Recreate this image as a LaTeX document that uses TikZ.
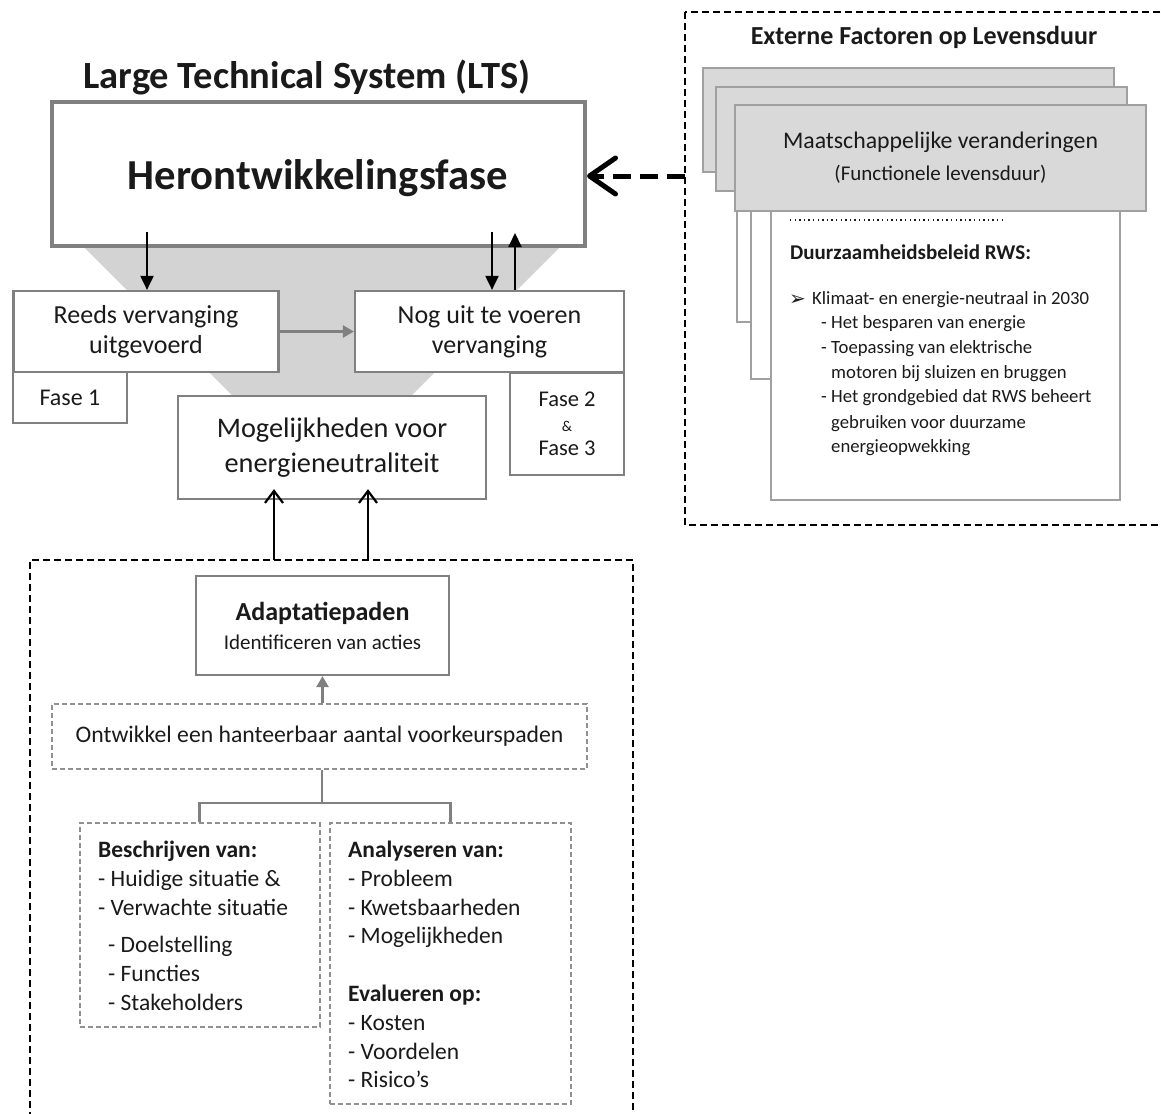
\documentclass[tikz,border=0pt]{standalone}
\usepackage{fontspec}
\setmainfont{Carlito}
\newfontfamily\symfont{DejaVu Sans}
\usetikzlibrary{arrows.meta}
\definecolor{boxgray}{HTML}{808080}
\definecolor{funnelgray}{HTML}{D3D3D3}
\definecolor{cardfill}{HTML}{D9D9D9}
\definecolor{cardline}{HTML}{A0A0A0}
\definecolor{txt}{HTML}{1A1A1A}
\definecolor{dashgray}{HTML}{909090}
\newcommand\fsz[2]{\fontsize{#1}{#2}\selectfont}
\begin{document}
\begin{tikzpicture}[x=1pt,y=-1pt,
  box/.style={draw=boxgray, line width=2.2pt, fill=white, inner sep=0pt, align=center, text=txt},
  mainbox/.style={box, line width=4pt},
  dbox/.style={draw=dashgray, dash pattern=on 5pt off 3pt, line width=2pt, fill=white, inner sep=0pt, align=center, text=txt},
  lbl/.style={inner sep=0pt, text=txt, anchor=base west},
  blkarrow/.style={line width=2pt, -{Triangle[length=14pt,width=13pt]}},
  grayarrow/.style={draw=boxgray, line width=2.5pt, -{Triangle[length=11pt,width=12pt]}},
  openarrow/.style={line width=2.2pt, -{Straight Barb[length=12pt,width=18pt]}},
  outerdash/.style={draw=black, line width=1.8pt, dash pattern=on 7pt off 4pt},
  bigdash/.style={line width=5pt, dash pattern=on 18pt off 9pt, -{Straight Barb[length=26pt,width=36pt,round]}},
  cardhead/.style={draw=cardline, fill=cardfill, line width=2.5pt, inner sep=0pt, align=center, text=txt},
  cardbody/.style={draw=cardline, fill=white, line width=2.5pt},
  tree/.style={draw=boxgray, line width=2.2pt},
  dotrow/.style={draw=txt, line width=1.4pt, dash pattern=on 1.4pt off 3.2pt}
]
\useasboundingbox (0,0) rectangle (1161,1113);
\clip (0,0) rectangle (1161,1113);

% ---------- left upper part ----------
\node[inner sep=0pt, text=txt, font=\bfseries\fsz{38.5}{44}] (lts) at (307,77) {Large Technical System (LTS)};

\fill[funnelgray] (82,245) -- (562,245) -- (410,397) -- (234,397) -- cycle;

\node[mainbox, minimum width=533pt, minimum height=143pt] (main) at (318.5,174) {};
\node[inner sep=0pt, text=txt, font=\bfseries\fsz{42.7}{48}] (mainT) at (318,178) {Herontwikkelingsfase};

\node[box, minimum width=265pt, minimum height=81pt, font=\fsz{26}{30}] (reeds) at (146,331.5) {Reeds vervanging\\uitgevoerd};
\node[box, minimum width=114pt, minimum height=51pt, font=\fsz{24}{28}] (fase1) at (70,397.5) {Fase 1};
\node[box, minimum width=269pt, minimum height=81pt, font=\fsz{26}{30}] (nog) at (489.5,331.5) {Nog uit te voeren\\vervanging};
\node[box, minimum width=114pt, minimum height=102pt, font=\fsz{22.5}{24.5}] (fase2) at (567,424) {Fase 2\\{\fsz{15}{24.5}\&}\\Fase 3};
\node[box, minimum width=308pt, minimum height=103pt, font=\fsz{28.3}{35}] (mog) at (332,447.5) {Mogelijkheden voor\\energieneutraliteit};

\coordinate (d1) at (147,232);
\coordinate (d2) at (492,232);
\coordinate (u3) at (515,233);
\draw[blkarrow] (d1) -- (d1 |- reeds.north);
\draw[blkarrow] (d2) -- (d2 |- nog.north);
\draw[blkarrow] (u3 |- nog.north) -- (u3);
\draw[grayarrow] (reeds.east) -- (nog.west);

% ---------- left lower part ----------
\draw[outerdash] (30,1130) -- (30,560) -- (633,560) -- (633,1130);
\coordinate (up1) at (274,560);
\coordinate (up2) at (368,560);
\draw[openarrow] (up1) -- ([yshift=11pt]up1 |- mog.south);
\draw[openarrow] (up2) -- ([yshift=11pt]up2 |- mog.south);

\node[box, minimum width=253pt, minimum height=99pt, font=\fsz{21}{29}] (adapt) at (322.5,625.5) {{\bfseries\fsz{26}{29}Adaptatiepaden}\\Identificeren van acties};
\node[dbox, minimum width=535pt, minimum height=65pt, font=\fsz{23.7}{28}] (ontw) at (319.5,736.5) {Ontwikkel een hanteerbaar aantal voorkeurspaden};
\draw[grayarrow] (adapt.south |- ontw.north) -- (adapt.south);

\node[dbox, minimum width=240pt, minimum height=204pt] (besch) at (199.5,925) {};
\node[dbox, minimum width=241pt, minimum height=281pt] (analy) at (450.5,963.5) {};
\coordinate (fork) at (322,803);
\draw[tree] (fork |- ontw.south) -- (fork) -| (besch.north);
\draw[tree] (fork) -| (analy.north);

\begin{scope}[every node/.style={lbl, font=\fsz{23.5}{28}}]
\node[font=\bfseries\fsz{23.5}{28}] (b1) at (98,857) {Beschrijven van:};
\node (b2) at (98,886) {- Huidige situatie \&};
\node (b3) at (98,915) {- Verwachte situatie};
\node (b4) at (108,952) {- Doelstelling};
\node (b5) at (108,981) {- Functies};
\node (b6) at (108,1010) {- Stakeholders};
\node[font=\bfseries\fsz{23.5}{28}] (a1) at (348,857) {Analyseren van:};
\node (a2) at (348,886) {- Probleem};
\node (a3) at (348,915) {- Kwetsbaarheden};
\node (a4) at (348,943) {- Mogelijkheden};
\node[font=\bfseries\fsz{23.5}{28}] (a5) at (348,1001) {Evalueren op:};
\node (a6) at (348,1030) {- Kosten};
\node (a7) at (348,1059) {- Voordelen};
\node (a8) at (348,1087) {- Risico’s};
\end{scope}

% ---------- right part ----------
\draw[outerdash] (685,12) rectangle (1185,525);
\node[inner sep=0pt, text=txt, font=\bfseries\fsz{26}{30}] (ext) at (924,37) {Externe Factoren op Levensduur};

\draw[cardbody] (737,172) rectangle (1088,322);
\node[cardhead, minimum width=411pt, minimum height=104pt] (cardA) at (908.5,120) {};
\draw[cardbody] (751,191) rectangle (1101,379);
\node[cardhead, minimum width=411pt, minimum height=104pt] (cardB) at (921.5,139) {};
\draw[cardbody] (771,211) rectangle (1120,500);
\node[cardhead, minimum width=411pt, minimum height=106pt, font=\fsz{23.8}{32}] (cardC) at (940.5,158) {Maatschappelijke veranderingen\\{\fsz{21}{32}(Functionele levensduur)}};

\coordinate (ext1) at (685,176);
\draw[bigdash] (ext1) -- (main.east |- ext1);

\draw[dotrow] (790,220) -- (1002,220);
\begin{scope}[every node/.style={lbl, font=\fsz{18.7}{24}}]
\node[font=\bfseries\fsz{21}{26}] (r1) at (790,259) {Duurzaamheidsbeleid RWS:};
\node[font=\symfont\fsz{20}{22}] (r2a) at (789,305) {➢};
\node (r2) at (812,304) {Klimaat- en energie-neutraal in 2030};
\node (r3a) at (821,328) {-};
\node (r3) at (831,328) {Het besparen van energie};
\node (r4a) at (821,353) {-};
\node (r4) at (831,353) {Toepassing van elektrische};
\node (r5) at (831,378) {motoren bij sluizen en bruggen};
\node (r6a) at (821,402) {-};
\node (r6) at (831,402) {Het grondgebied dat RWS beheert};
\node (r7) at (831,428) {gebruiken voor duurzame};
\node (r8) at (831,452) {energieopwekking};
\end{scope}
\end{tikzpicture}
\end{document}
